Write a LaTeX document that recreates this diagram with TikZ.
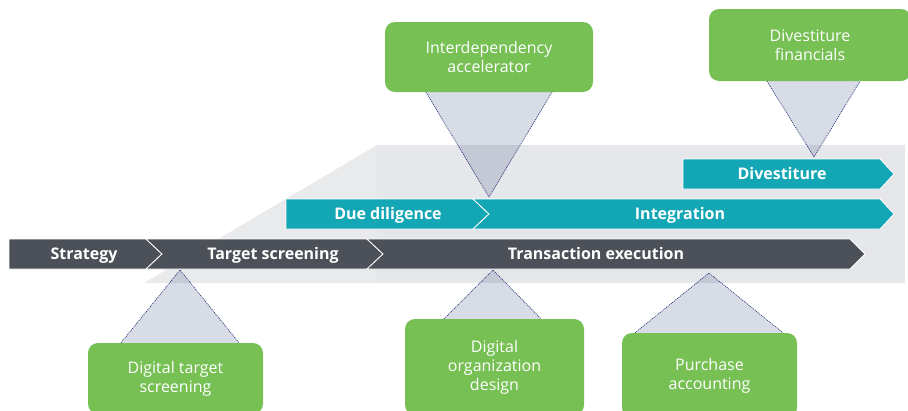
\documentclass[tikz,border=0pt]{standalone}
\usepackage{fontspec}
\setmainfont{Open Sans}
\usepackage{xcolor}
\usepackage{tikz}
\usetikzlibrary{calc}

\definecolor{phasedark}{HTML}{4C5058}
\definecolor{phaseteal}{HTML}{13A7B5}
\definecolor{toolgreen}{HTML}{76C054}
\definecolor{bggray}{HTML}{E6E7EA}
\definecolor{bglight}{HTML}{E9EAEC}
\definecolor{conefill}{RGB}{92,108,150}
\definecolor{conedot}{RGB}{40,52,125}

\begin{document}
\begin{tikzpicture}[x=1pt, y=-1pt,
  phase/.style={draw=white, line width=0.8pt},
  phaselabel/.style={text=white, font=\fontsize{16}{19}\selectfont\bfseries, anchor=base},
  toolbox/.style={fill=toolgreen, rounded corners=10pt, text=white, align=center,
    font=\fontsize{16}{19}\selectfont, inner sep=0pt},
  cone/.style={fill=conefill, fill opacity=0.24},
  coneedge/.style={draw=conedot, line width=0.7pt, dash pattern=on 1pt off 1pt}]
  \clip (0,0) rectangle (908,410);

  % Gray backdrop behind the timeline
  \fill[bglight] (144,283) -- (377,145) -- (377,283) -- cycle;
  \fill[bggray] (377,145) rectangle (905,283);

  % Bottom row: dark phases
  \fill[phasedark, phase] (9,239) -- (146,239) -- (162,254) -- (146,269) -- (9,269) -- cycle;
  \fill[phasedark, phase] (146,239) -- (367,239) -- (383,254) -- (367,269) -- (146,269) -- (162,254) -- cycle;
  \fill[phasedark, phase] (367,239) -- (850,239) -- (865,254) -- (850,269) -- (367,269) -- (383,254) -- cycle;
  \node[phaselabel] (strat) at (84,259.5) {Strategy};
  \node[phaselabel] (screen) at (273,259.5) {Target screening};
  \node[phaselabel] (trans) at (596,259.5) {Transaction execution};

  % Middle row: teal phases
  \fill[phaseteal, phase] (286,199) -- (473,199) -- (489,214) -- (473,229) -- (286,229) -- cycle;
  \fill[phaseteal, phase] (473,199) -- (880,199) -- (894,214) -- (880,229) -- (473,229) -- (489,214) -- cycle;
  \node[phaselabel] (dd) at (388,219.5) {Due diligence};
  \node[phaselabel] (integ) at (680,219.5) {Integration};

  % Top row: divestiture
  \fill[phaseteal, phase] (683,159) -- (880,159) -- (894,174) -- (880,189) -- (683,189) -- cycle;
  \node[phaselabel] (divest) at (782,179.5) {Divestiture};

  % Tool boxes
  \node[toolbox, minimum width=208, minimum height=70] (inter) at (489,57) {Interdependency\\accelerator};
  \node[toolbox, minimum width=202, minimum height=72] (divfin) at (810,45) {Divestiture\\financials};
  \node[toolbox, minimum width=175, minimum height=71] (dts) at (175.5,378.5) {Digital target\\screening};
  \node[toolbox, minimum width=179, minimum height=96] (dod) at (494.5,367) {Digital\\organization\\design};
  \node[toolbox, minimum width=175, minimum height=85] (pa) at (709.5,375.5) {Purchase\\accounting};

  % Points where the cones touch the timeline
  \coordinate (interpt) at (489,197);
  \coordinate (divfinpt) at (814,157);
  \coordinate (dtspt) at (180,270);
  \coordinate (dodpt) at (493,270);
  \coordinate (papt) at (709,273);

  % Cones
  \fill[cone] ($(inter.south)+(-63,0)$) -- (interpt) -- ($(inter.south)+(63,0)$) -- cycle;
  \draw[coneedge] ($(inter.south)+(-63,0)$) -- (interpt) -- ($(inter.south)+(63,0)$);

  \fill[cone] ($(divfin.south)+(-43,0)$) -- (divfinpt) -- ($(divfin.south)+(50,0)$) -- cycle;
  \draw[coneedge] ($(divfin.south)+(-43,0)$) -- (divfinpt) -- ($(divfin.south)+(50,0)$);

  \fill[cone] ($(dts.north)+(-54.5,0)$) -- (dtspt) -- ($(dts.north)+(63.5,0)$) -- cycle;
  \draw[coneedge] ($(dts.north)+(-54.5,0)$) -- (dtspt) -- ($(dts.north)+(63.5,0)$);

  \fill[cone] ($(dod.north)+(-50.5,0)$) -- (dodpt) -- ($(dod.north)+(46.5,0)$) -- cycle;
  \draw[coneedge] ($(dod.north)+(-50.5,0)$) -- (dodpt) -- ($(dod.north)+(46.5,0)$);

  \fill[cone] ($(pa.north)+(-74.5,0)$) -- (papt) -- ($(pa.north)+(73.5,0)$) -- cycle;
  \draw[coneedge] ($(pa.north)+(-74.5,0)$) -- (papt) -- ($(pa.north)+(73.5,0)$);
\end{tikzpicture}
\end{document}
